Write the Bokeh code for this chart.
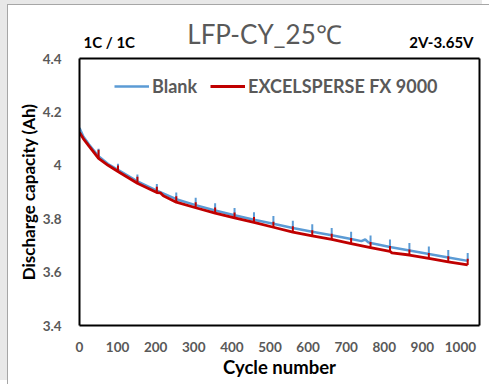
from bokeh.plotting import figure
from bokeh.layouts import column
from bokeh.models import Range1d, FixedTicker, Label, Legend, LegendItem, LinearAxis
from bokeh.embed import file_html
from bokeh.resources import INLINE

# ---- data ----
cycles_blank = [0, 10, 25, 50, 75, 101, 152, 203, 254, 305, 356, 407, 458, 509, 560,
                611, 662, 713, 740, 750, 758, 764, 815, 866, 917, 968, 1019]
cap_blank = [4.140, 4.108, 4.078, 4.034, 4.005, 3.983, 3.940, 3.905, 3.873, 3.851, 3.831,
             3.813, 3.796, 3.781, 3.765, 3.751, 3.738, 3.724, 3.716, 3.722, 3.712, 3.709,
             3.694, 3.681, 3.668, 3.655, 3.642]

cycles_fx = [0, 10, 25, 50, 75, 101, 152, 203, 212, 220, 254, 305, 356, 407, 458, 509, 560,
             611, 662, 713, 764, 815, 820, 866, 917, 968, 1019]
cap_fx = [4.123, 4.100, 4.072, 4.026, 4.000, 3.977, 3.933, 3.898, 3.897, 3.886, 3.862,
          3.841, 3.821, 3.803, 3.786, 3.768, 3.750, 3.736, 3.723, 3.707, 3.692, 3.678,
          3.672, 3.664, 3.651, 3.638, 3.627]

spike_cycles = [50, 101, 152, 203, 254, 305, 356, 407, 458, 509, 560, 611, 662, 713,
                764, 815, 866, 917, 968, 1019]
spike_top_blank = [4.062, 4.006, 3.966, 3.930, 3.898, 3.878, 3.858, 3.840, 3.824, 3.810,
                   3.792, 3.779, 3.765, 3.751, 3.737, 3.722, 3.709, 3.696, 3.683, 3.672]
spike_top_fx = [4.058, 3.999, 3.957, 3.920, 3.884, 3.862, 3.842, 3.823, 3.806, 3.789,
                3.772, 3.757, 3.744, 3.728, 3.713, 3.698, 3.685, 3.672, 3.659, 3.650]

x_ticks = [0, 100, 200, 300, 400, 500, 600, 700, 800, 900, 1000]
y_ticks = [3.4, 3.6, 3.8, 4.0, 4.2, 4.4]
y_tick_labels = ["3.4", "3.6", "3.8", "4", "4.2", "4.4"]

series_names = ["Blank", "EXCELSPERSE FX 9000"]
title_text = "LFP-CY_25℃"
left_note = "1C / 1C"
right_note = "2V-3.65V"

BLUE = "#5b9bd5"
RED = "#c00000"
GRAY = "#595959"
FONT = "Lato"

W = 481          # inner white panel width
HEAD_H = 45      # header strip holding the title texts
MAIN_H = 334

# ---- header (title + notes); frame aligned with the main frame (canvas x 79..479) ----
head = figure(width=W, height=HEAD_H, output_backend="svg", toolbar_location=None,
              x_range=Range1d(79, 479), y_range=Range1d(HEAD_H, 0),
              x_axis_type=None, y_axis_type=None,
              min_border_left=71, min_border_right=10, min_border_top=0, min_border_bottom=0)
head.outline_line_color = None
head.grid.visible = False
head.border_fill_color = "white"
head.background_fill_color = "white"
head.add_layout(Label(x=264, y=28, text=title_text, text_align="center", text_baseline="middle",
                      text_font=FONT, text_font_size="26px", text_color=GRAY))
head.add_layout(Label(x=83, y=36, text=left_note, text_align="left", text_baseline="middle",
                      text_font=FONT, text_font_style="bold", text_font_size="15px",
                      text_color="black"))
head.add_layout(Label(x=473, y=36, text=right_note, text_align="right", text_baseline="middle",
                      text_font=FONT, text_font_style="bold", text_font_size="15px",
                      text_color="black"))

# ---- main chart ----
p = figure(width=W, height=MAIN_H, output_backend="svg", toolbar_location=None,
           x_range=Range1d(0, 1050), y_range=Range1d(3.4, 4.4),
           min_border_left=71, min_border_right=10, min_border_top=8, min_border_bottom=59)
p.border_fill_color = "white"
p.background_fill_color = "white"
p.grid.visible = False
p.outline_line_color = None

for ax in (p.xaxis[0], p.yaxis[0]):
    ax.axis_line_color = "black"
    ax.axis_line_width = 2
    ax.major_tick_line_color = None
    ax.minor_tick_line_color = None
    ax.major_label_text_color = GRAY
    ax.major_label_text_font = FONT
    ax.major_label_text_font_style = "bold"
    ax.major_label_text_font_size = "13.5px"
    ax.axis_label_text_font = FONT
    ax.axis_label_text_font_style = "bold"
    ax.axis_label_text_color = "black"

p.xaxis.axis_label_text_font_size = "18.5px"
p.yaxis.axis_label_text_font_size = "17px"
p.xaxis.ticker = FixedTicker(ticks=x_ticks)
p.yaxis.ticker = FixedTicker(ticks=y_ticks)
p.yaxis.major_label_overrides = {t: l for t, l in zip(y_ticks, y_tick_labels)}
p.xaxis.axis_label = "Cycle number"
p.yaxis.axis_label = "Discharge capacity (Ah)"
p.xaxis.major_label_standoff = 10
p.xaxis.axis_label_standoff = 1
p.yaxis.major_label_standoff = 12
p.yaxis.axis_label_standoff = 1

# frame closing lines (top and right)
for side in ("above", "right"):
    a = LinearAxis(ticker=FixedTicker(ticks=[]), axis_line_color="black", axis_line_width=2,
                   major_tick_line_color=None, minor_tick_line_color=None,
                   major_label_text_font_size="0px")
    p.add_layout(a, side)

# curves
rb = p.line(cycles_blank, cap_blank, line_color=BLUE, line_width=2.5)
base_b = dict(zip(cycles_blank, cap_blank))
p.segment(spike_cycles, [base_b[c] for c in spike_cycles], spike_cycles, spike_top_blank,
          line_color=BLUE, line_width=2)
rr = p.line(cycles_fx, cap_fx, line_color=RED, line_width=2.8)
base_r = dict(zip(cycles_fx, cap_fx))
p.segment(spike_cycles, [base_r[c] for c in spike_cycles], spike_cycles, spike_top_fx,
          line_color=RED, line_width=2)

legend = Legend(items=[LegendItem(label=series_names[0], renderers=[rb]),
                       LegendItem(label=series_names[1], renderers=[rr])],
                orientation="horizontal", location=(35, 228), padding=0, margin=0,
                spacing=13, glyph_width=35, label_standoff=3,
                label_text_font=FONT, label_text_font_style="bold",
                label_text_font_size="18px", label_text_color=GRAY,
                border_line_color=None, background_fill_alpha=0)
p.add_layout(legend, "center")

layout = column(head, p, spacing=0,
                styles={"background-color": "white",
                        "border-left": "1px solid #a6a6a6", "border-top": "1px solid #a6a6a6",
                        "margin-left": "7px", "margin-top": "4px",
                        "box-shadow": "-7px -4px 0 0 #e8e8e8"})

open("out.html", "w").write(file_html(layout, INLINE))
